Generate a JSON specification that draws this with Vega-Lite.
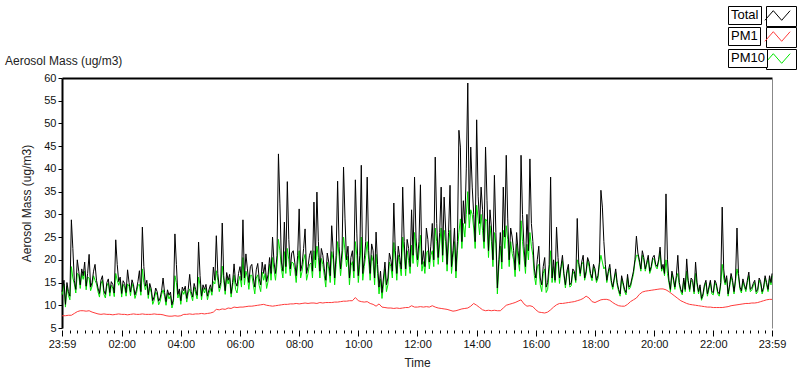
{
"$schema":"https://vega.github.io/schema/vega-lite/v6.json",
"autosize":{"type":"none"},
"width":710,"height":250,
"padding":{"left":62,"top":78,"right":28,"bottom":41},
"background":"white",
"config":{"view":{"stroke":null},"font":"Liberation Sans"},
"title":{"text":"Aerosol Mass (ug/m3)","anchor":"start","frame":"group","dx":-57,"dy":71,"offset":0,"fontSize":12,"fontWeight":"normal","color":"#222","font":"Liberation Sans","baseline":"alphabetic"},
"data":{"format":{"parse":{"t":"utc:'%Y-%m-%d %H:%M'"}},"values":[
{"t":"1970-01-01 23:59","Total":13.0,"PM10":12.3,"PM1":7.7},
{"t":"1970-01-02 00:00","Total":13.5,"PM10":12.7,"PM1":7.7},
{"t":"1970-01-02 00:03","Total":15.5,"PM10":14.7},
{"t":"1970-01-02 00:06","Total":10.2,"PM10":9.6,"PM1":7.7},
{"t":"1970-01-02 00:09","Total":15.0,"PM10":14.2},
{"t":"1970-01-02 00:12","Total":13.0,"PM10":12.2,"PM1":7.8},
{"t":"1970-01-02 00:15","Total":12.0,"PM10":11.2},
{"t":"1970-01-02 00:18","Total":28.8,"PM10":18.5,"PM1":7.8},
{"t":"1970-01-02 00:21","Total":22.5,"PM10":16.0},
{"t":"1970-01-02 00:24","Total":15.5,"PM10":14.7,"PM1":8.2},
{"t":"1970-01-02 00:27","Total":13.5,"PM10":12.7},
{"t":"1970-01-02 00:30","Total":20.0,"PM10":17.0,"PM1":8.6},
{"t":"1970-01-02 00:33","Total":17.5,"PM10":16.7},
{"t":"1970-01-02 00:36","Total":14.5,"PM10":13.7,"PM1":8.8},
{"t":"1970-01-02 00:39","Total":18.0,"PM10":17.0},
{"t":"1970-01-02 00:42","Total":16.5,"PM10":15.7,"PM1":8.8},
{"t":"1970-01-02 00:45","Total":19.5,"PM10":17.5},
{"t":"1970-01-02 00:48","Total":14.2,"PM10":13.4,"PM1":8.7},
{"t":"1970-01-02 00:51","Total":17.0,"PM10":16.2},
{"t":"1970-01-02 00:54","Total":21.2,"PM10":16.0,"PM1":8.8},
{"t":"1970-01-02 00:57","Total":14.0,"PM10":13.2},
{"t":"1970-01-02 01:00","Total":15.0,"PM10":14.2,"PM1":8.5},
{"t":"1970-01-02 01:03","Total":17.5,"PM10":16.5},
{"t":"1970-01-02 01:06","Total":19.0,"PM10":15.5,"PM1":8.3},
{"t":"1970-01-02 01:09","Total":15.5,"PM10":14.7},
{"t":"1970-01-02 01:12","Total":13.8,"PM10":13.0,"PM1":8.1},
{"t":"1970-01-02 01:15","Total":12.6,"PM10":11.8},
{"t":"1970-01-02 01:18","Total":15.5,"PM10":14.7,"PM1":8.0},
{"t":"1970-01-02 01:21","Total":16.5,"PM10":15.5},
{"t":"1970-01-02 01:24","Total":13.2,"PM10":12.4,"PM1":8.1},
{"t":"1970-01-02 01:27","Total":12.4,"PM10":11.6},
{"t":"1970-01-02 01:30","Total":15.0,"PM10":14.2,"PM1":8.0},
{"t":"1970-01-02 01:33","Total":15.8,"PM10":15.0},
{"t":"1970-01-02 01:36","Total":12.8,"PM10":12.0,"PM1":8.0},
{"t":"1970-01-02 01:39","Total":15.2,"PM10":14.4},
{"t":"1970-01-02 01:42","Total":14.6,"PM10":13.8,"PM1":7.9},
{"t":"1970-01-02 01:45","Total":12.7,"PM10":11.9},
{"t":"1970-01-02 01:48","Total":24.4,"PM10":17.0,"PM1":8.0},
{"t":"1970-01-02 01:51","Total":19.0,"PM10":15.5},
{"t":"1970-01-02 01:54","Total":15.2,"PM10":14.4,"PM1":8.1},
{"t":"1970-01-02 01:57","Total":16.2,"PM10":15.4},
{"t":"1970-01-02 02:00","Total":12.6,"PM10":11.8,"PM1":8.0},
{"t":"1970-01-02 02:03","Total":15.4,"PM10":14.6},
{"t":"1970-01-02 02:06","Total":14.8,"PM10":14.0,"PM1":8.0},
{"t":"1970-01-02 02:09","Total":12.8,"PM10":12.0},
{"t":"1970-01-02 02:12","Total":17.8,"PM10":14.7,"PM1":7.9},
{"t":"1970-01-02 02:15","Total":15.0,"PM10":14.2},
{"t":"1970-01-02 02:18","Total":12.9,"PM10":12.1,"PM1":8.0},
{"t":"1970-01-02 02:21","Total":15.6,"PM10":14.8},
{"t":"1970-01-02 02:24","Total":14.5,"PM10":13.7,"PM1":8.1},
{"t":"1970-01-02 02:27","Total":12.3,"PM10":11.5},
{"t":"1970-01-02 02:30","Total":13.4,"PM10":12.6,"PM1":8.0},
{"t":"1970-01-02 02:33","Total":15.2,"PM10":14.4},
{"t":"1970-01-02 02:36","Total":17.6,"PM10":14.6,"PM1":8.0},
{"t":"1970-01-02 02:39","Total":13.0,"PM10":12.2},
{"t":"1970-01-02 02:42","Total":27.2,"PM10":18.0,"PM1":8.1},
{"t":"1970-01-02 02:45","Total":18.5,"PM10":15.0},
{"t":"1970-01-02 02:48","Total":14.2,"PM10":13.4,"PM1":8.0},
{"t":"1970-01-02 02:51","Total":15.5,"PM10":14.7},
{"t":"1970-01-02 02:54","Total":12.3,"PM10":11.5,"PM1":8.0},
{"t":"1970-01-02 02:57","Total":14.8,"PM10":14.0},
{"t":"1970-01-02 03:00","Total":13.6,"PM10":12.8,"PM1":8.0},
{"t":"1970-01-02 03:03","Total":11.0,"PM10":10.2},
{"t":"1970-01-02 03:06","Total":11.9,"PM10":11.1,"PM1":8.1},
{"t":"1970-01-02 03:09","Total":13.8,"PM10":13.0},
{"t":"1970-01-02 03:12","Total":13.0,"PM10":12.2,"PM1":8.0},
{"t":"1970-01-02 03:15","Total":10.9,"PM10":10.1},
{"t":"1970-01-02 03:18","Total":11.6,"PM10":10.8,"PM1":8.0},
{"t":"1970-01-02 03:21","Total":13.2,"PM10":12.4},
{"t":"1970-01-02 03:24","Total":16.0,"PM10":13.4,"PM1":7.9},
{"t":"1970-01-02 03:27","Total":12.8,"PM10":12.0},
{"t":"1970-01-02 03:30","Total":10.8,"PM10":10.0,"PM1":7.7},
{"t":"1970-01-02 03:33","Total":13.4,"PM10":12.6},
{"t":"1970-01-02 03:36","Total":12.2,"PM10":11.4,"PM1":7.6},
{"t":"1970-01-02 03:39","Total":12.9,"PM10":12.1},
{"t":"1970-01-02 03:42","Total":10.1,"PM10":9.4,"PM1":7.6},
{"t":"1970-01-02 03:45","Total":11.4,"PM10":10.6},
{"t":"1970-01-02 03:48","Total":25.7,"PM10":16.5,"PM1":7.7},
{"t":"1970-01-02 03:51","Total":19.0,"PM10":15.0},
{"t":"1970-01-02 03:54","Total":12.4,"PM10":11.6,"PM1":7.6},
{"t":"1970-01-02 03:57","Total":13.6,"PM10":12.8},
{"t":"1970-01-02 04:00","Total":11.0,"PM10":10.2,"PM1":7.7},
{"t":"1970-01-02 04:03","Total":14.0,"PM10":13.2},
{"t":"1970-01-02 04:06","Total":13.2,"PM10":12.4,"PM1":8.0},
{"t":"1970-01-02 04:09","Total":14.2,"PM10":13.4},
{"t":"1970-01-02 04:12","Total":11.5,"PM10":10.7,"PM1":8.0},
{"t":"1970-01-02 04:15","Total":13.5,"PM10":12.7},
{"t":"1970-01-02 04:18","Total":16.8,"PM10":13.6,"PM1":8.1},
{"t":"1970-01-02 04:21","Total":13.0,"PM10":12.2},
{"t":"1970-01-02 04:24","Total":11.8,"PM10":11.0,"PM1":8.0},
{"t":"1970-01-02 04:27","Total":14.8,"PM10":14.0},
{"t":"1970-01-02 04:30","Total":13.5,"PM10":12.7,"PM1":8.1},
{"t":"1970-01-02 04:33","Total":12.2,"PM10":11.4},
{"t":"1970-01-02 04:36","Total":23.9,"PM10":16.2,"PM1":8.1},
{"t":"1970-01-02 04:39","Total":16.5,"PM10":14.5},
{"t":"1970-01-02 04:42","Total":12.0,"PM10":11.2,"PM1":8.2},
{"t":"1970-01-02 04:45","Total":14.5,"PM10":13.7},
{"t":"1970-01-02 04:48","Total":13.5,"PM10":12.7,"PM1":8.1},
{"t":"1970-01-02 04:51","Total":14.6,"PM10":13.8},
{"t":"1970-01-02 04:54","Total":12.0,"PM10":11.2,"PM1":8.2},
{"t":"1970-01-02 04:57","Total":13.4,"PM10":12.6},
{"t":"1970-01-02 05:00","Total":14.5,"PM10":13.7,"PM1":8.3},
{"t":"1970-01-02 05:03","Total":13.0,"PM10":12.2},
{"t":"1970-01-02 05:06","Total":18.4,"PM10":15.2,"PM1":8.5},
{"t":"1970-01-02 05:09","Total":15.5,"PM10":14.7},
{"t":"1970-01-02 05:12","Total":25.3,"PM10":17.6,"PM1":9.1},
{"t":"1970-01-02 05:15","Total":17.0,"PM10":15.5},
{"t":"1970-01-02 05:18","Total":13.8,"PM10":13.0,"PM1":9.0},
{"t":"1970-01-02 05:21","Total":15.0,"PM10":14.2},
{"t":"1970-01-02 05:24","Total":28.1,"PM10":18.6,"PM1":9.2},
{"t":"1970-01-02 05:27","Total":16.5,"PM10":15.5},
{"t":"1970-01-02 05:30","Total":13.2,"PM10":12.4,"PM1":9.1},
{"t":"1970-01-02 05:33","Total":17.2,"PM10":16.2},
{"t":"1970-01-02 05:36","Total":15.5,"PM10":14.7,"PM1":9.4},
{"t":"1970-01-02 05:39","Total":16.8,"PM10":16.0},
{"t":"1970-01-02 05:42","Total":12.6,"PM10":11.8,"PM1":9.3},
{"t":"1970-01-02 05:45","Total":15.0,"PM10":14.2},
{"t":"1970-01-02 05:48","Total":19.1,"PM10":16.6,"PM1":9.6},
{"t":"1970-01-02 05:51","Total":15.0,"PM10":13.5},
{"t":"1970-01-02 05:54","Total":14.2,"PM10":12.7,"PM1":9.5},
{"t":"1970-01-02 05:57","Total":17.0,"PM10":15.2},
{"t":"1970-01-02 06:00","Total":18.5,"PM10":16.4,"PM1":9.6},
{"t":"1970-01-02 06:03","Total":15.5,"PM10":14.0},
{"t":"1970-01-02 06:06","Total":28.8,"PM10":20.5,"PM1":9.6},
{"t":"1970-01-02 06:09","Total":16.0,"PM10":14.5},
{"t":"1970-01-02 06:12","Total":21.3,"PM10":17.5,"PM1":9.7},
{"t":"1970-01-02 06:15","Total":18.0,"PM10":16.2},
{"t":"1970-01-02 06:18","Total":15.0,"PM10":13.5,"PM1":9.8},
{"t":"1970-01-02 06:21","Total":18.5,"PM10":16.6},
{"t":"1970-01-02 06:24","Total":19.0,"PM10":16.6,"PM1":9.8},
{"t":"1970-01-02 06:27","Total":16.0,"PM10":14.5},
{"t":"1970-01-02 06:30","Total":14.0,"PM10":12.5,"PM1":9.9},
{"t":"1970-01-02 06:33","Total":17.8,"PM10":16.0},
{"t":"1970-01-02 06:36","Total":19.2,"PM10":16.7,"PM1":10.0},
{"t":"1970-01-02 06:39","Total":15.8,"PM10":14.3},
{"t":"1970-01-02 06:42","Total":14.5,"PM10":13.0,"PM1":10.1},
{"t":"1970-01-02 06:45","Total":19.5,"PM10":17.3},
{"t":"1970-01-02 06:48","Total":17.0,"PM10":15.5,"PM1":10.2},
{"t":"1970-01-02 06:51","Total":19.0,"PM10":17.0},
{"t":"1970-01-02 06:54","Total":15.2,"PM10":13.7,"PM1":10.0},
{"t":"1970-01-02 06:57","Total":16.8,"PM10":15.3},
{"t":"1970-01-02 07:00","Total":20.5,"PM10":19.0,"PM1":9.9},
{"t":"1970-01-02 07:03","Total":17.0,"PM10":15.5},
{"t":"1970-01-02 07:06","Total":25.0,"PM10":20.5,"PM1":9.8},
{"t":"1970-01-02 07:09","Total":19.5,"PM10":17.8},
{"t":"1970-01-02 07:12","Total":17.0,"PM10":15.5,"PM1":9.9},
{"t":"1970-01-02 07:15","Total":21.0,"PM10":19.0},
{"t":"1970-01-02 07:18","Total":43.3,"PM10":24.5,"PM1":10.0},
{"t":"1970-01-02 07:21","Total":32.3,"PM10":22.0},
{"t":"1970-01-02 07:24","Total":19.5,"PM10":18.0,"PM1":10.1},
{"t":"1970-01-02 07:27","Total":17.5,"PM10":16.0},
{"t":"1970-01-02 07:30","Total":28.3,"PM10":21.8,"PM1":10.2},
{"t":"1970-01-02 07:33","Total":18.5,"PM10":17.0},
{"t":"1970-01-02 07:36","Total":37.2,"PM10":22.5,"PM1":10.2},
{"t":"1970-01-02 07:39","Total":24.5,"PM10":20.0},
{"t":"1970-01-02 07:42","Total":18.0,"PM10":16.5,"PM1":10.3},
{"t":"1970-01-02 07:45","Total":21.5,"PM10":19.5},
{"t":"1970-01-02 07:48","Total":22.0,"PM10":19.3,"PM1":10.3},
{"t":"1970-01-02 07:51","Total":19.5,"PM10":17.8},
{"t":"1970-01-02 07:54","Total":16.5,"PM10":15.0,"PM1":10.4},
{"t":"1970-01-02 07:57","Total":21.0,"PM10":19.0},
{"t":"1970-01-02 08:00","Total":31.2,"PM10":22.0,"PM1":10.3},
{"t":"1970-01-02 08:03","Total":17.5,"PM10":16.0},
{"t":"1970-01-02 08:06","Total":19.0,"PM10":17.5,"PM1":10.4},
{"t":"1970-01-02 08:09","Total":22.5,"PM10":20.0},
{"t":"1970-01-02 08:12","Total":26.8,"PM10":21.2,"PM1":10.5},
{"t":"1970-01-02 08:15","Total":17.0,"PM10":15.5},
{"t":"1970-01-02 08:18","Total":18.5,"PM10":17.0,"PM1":10.4},
{"t":"1970-01-02 08:21","Total":21.0,"PM10":19.0},
{"t":"1970-01-02 08:24","Total":22.0,"PM10":19.3,"PM1":10.5},
{"t":"1970-01-02 08:27","Total":17.5,"PM10":16.0},
{"t":"1970-01-02 08:30","Total":32.7,"PM10":22.0,"PM1":10.5},
{"t":"1970-01-02 08:33","Total":20.0,"PM10":18.2},
{"t":"1970-01-02 08:36","Total":34.9,"PM10":23.0,"PM1":10.4},
{"t":"1970-01-02 08:39","Total":24.0,"PM10":20.5},
{"t":"1970-01-02 08:42","Total":17.5,"PM10":16.0,"PM1":10.6},
{"t":"1970-01-02 08:45","Total":22.5,"PM10":20.3},
{"t":"1970-01-02 08:48","Total":21.0,"PM10":19.0,"PM1":10.5},
{"t":"1970-01-02 08:51","Total":18.0,"PM10":16.5},
{"t":"1970-01-02 08:54","Total":15.5,"PM10":14.0,"PM1":10.6},
{"t":"1970-01-02 08:57","Total":21.5,"PM10":19.5},
{"t":"1970-01-02 09:00","Total":19.5,"PM10":18.0,"PM1":10.6},
{"t":"1970-01-02 09:03","Total":16.5,"PM10":15.0},
{"t":"1970-01-02 09:06","Total":27.5,"PM10":21.8,"PM1":10.6},
{"t":"1970-01-02 09:09","Total":22.0,"PM10":20.0},
{"t":"1970-01-02 09:12","Total":16.0,"PM10":14.5,"PM1":10.7},
{"t":"1970-01-02 09:15","Total":21.0,"PM10":19.0},
{"t":"1970-01-02 09:18","Total":37.3,"PM10":24.0,"PM1":10.7},
{"t":"1970-01-02 09:21","Total":23.0,"PM10":20.8},
{"t":"1970-01-02 09:24","Total":18.0,"PM10":16.5,"PM1":10.8},
{"t":"1970-01-02 09:27","Total":22.0,"PM10":20.0},
{"t":"1970-01-02 09:30","Total":40.4,"PM10":25.0,"PM1":10.9},
{"t":"1970-01-02 09:33","Total":29.0,"PM10":22.0},
{"t":"1970-01-02 09:36","Total":20.0,"PM10":18.5,"PM1":10.9},
{"t":"1970-01-02 09:39","Total":23.0,"PM10":20.8},
{"t":"1970-01-02 09:42","Total":16.0,"PM10":14.5,"PM1":11.0},
{"t":"1970-01-02 09:45","Total":20.5,"PM10":18.7},
{"t":"1970-01-02 09:48","Total":22.0,"PM10":19.6,"PM1":11.0},
{"t":"1970-01-02 09:51","Total":17.5,"PM10":16.0},
{"t":"1970-01-02 09:54","Total":37.6,"PM10":24.0,"PM1":11.7},
{"t":"1970-01-02 09:57","Total":25.7,"PM10":21.0},
{"t":"1970-01-02 10:00","Total":16.5,"PM10":15.0,"PM1":11.0},
{"t":"1970-01-02 10:03","Total":21.0,"PM10":19.0},
{"t":"1970-01-02 10:06","Total":40.8,"PM10":25.0,"PM1":10.8},
{"t":"1970-01-02 10:09","Total":17.0,"PM10":15.5},
{"t":"1970-01-02 10:12","Total":20.0,"PM10":18.5,"PM1":10.7},
{"t":"1970-01-02 10:15","Total":24.0,"PM10":21.0},
{"t":"1970-01-02 10:18","Total":38.2,"PM10":24.0,"PM1":10.8},
{"t":"1970-01-02 10:21","Total":22.0,"PM10":20.0},
{"t":"1970-01-02 10:24","Total":17.0,"PM10":15.5,"PM1":10.4},
{"t":"1970-01-02 10:27","Total":23.5,"PM10":21.0},
{"t":"1970-01-02 10:30","Total":22.0,"PM10":19.6,"PM1":10.2},
{"t":"1970-01-02 10:33","Total":16.0,"PM10":14.5},
{"t":"1970-01-02 10:36","Total":26.1,"PM10":21.2,"PM1":9.8},
{"t":"1970-01-02 10:39","Total":19.0,"PM10":17.0},
{"t":"1970-01-02 10:42","Total":14.0,"PM10":12.5,"PM1":10.3},
{"t":"1970-01-02 10:45","Total":17.5,"PM10":15.8},
{"t":"1970-01-02 10:48","Total":12.8,"PM10":11.5,"PM1":9.6},
{"t":"1970-01-02 10:51","Total":16.0,"PM10":14.5},
{"t":"1970-01-02 10:54","Total":19.5,"PM10":18.0,"PM1":9.5},
{"t":"1970-01-02 10:57","Total":14.5,"PM10":13.0},
{"t":"1970-01-02 11:00","Total":16.0,"PM10":14.5,"PM1":9.4},
{"t":"1970-01-02 11:03","Total":21.5,"PM10":19.5},
{"t":"1970-01-02 11:06","Total":20.0,"PM10":18.5,"PM1":9.4},
{"t":"1970-01-02 11:09","Total":17.5,"PM10":16.0},
{"t":"1970-01-02 11:12","Total":32.5,"PM10":23.8,"PM1":9.3},
{"t":"1970-01-02 11:15","Total":22.0,"PM10":20.0},
{"t":"1970-01-02 11:18","Total":17.0,"PM10":15.5,"PM1":9.4},
{"t":"1970-01-02 11:21","Total":23.0,"PM10":21.0},
{"t":"1970-01-02 11:24","Total":20.5,"PM10":19.0,"PM1":9.3},
{"t":"1970-01-02 11:27","Total":18.0,"PM10":16.5},
{"t":"1970-01-02 11:30","Total":36.0,"PM10":25.0,"PM1":9.4},
{"t":"1970-01-02 11:33","Total":24.0,"PM10":21.5},
{"t":"1970-01-02 11:36","Total":18.0,"PM10":16.5,"PM1":9.5},
{"t":"1970-01-02 11:39","Total":24.5,"PM10":22.0},
{"t":"1970-01-02 11:42","Total":22.5,"PM10":19.8,"PM1":9.5},
{"t":"1970-01-02 11:45","Total":18.5,"PM10":17.0},
{"t":"1970-01-02 11:48","Total":31.0,"PM10":23.2,"PM1":9.9},
{"t":"1970-01-02 11:51","Total":21.0,"PM10":19.2},
{"t":"1970-01-02 11:54","Total":38.2,"PM10":26.0,"PM1":9.6},
{"t":"1970-01-02 11:57","Total":25.0,"PM10":22.0},
{"t":"1970-01-02 12:00","Total":20.0,"PM10":18.5,"PM1":9.6},
{"t":"1970-01-02 12:03","Total":24.0,"PM10":21.5},
{"t":"1970-01-02 12:06","Total":36.5,"PM10":25.4,"PM1":9.7},
{"t":"1970-01-02 12:09","Total":19.0,"PM10":17.5},
{"t":"1970-01-02 12:12","Total":22.0,"PM10":19.6,"PM1":9.6},
{"t":"1970-01-02 12:15","Total":18.5,"PM10":17.0},
{"t":"1970-01-02 12:18","Total":27.0,"PM10":21.6,"PM1":9.7},
{"t":"1970-01-02 12:21","Total":24.5,"PM10":22.0},
{"t":"1970-01-02 12:24","Total":19.5,"PM10":18.0,"PM1":9.6},
{"t":"1970-01-02 12:27","Total":23.0,"PM10":21.0},
{"t":"1970-01-02 12:30","Total":28.0,"PM10":22.0,"PM1":9.9},
{"t":"1970-01-02 12:33","Total":20.0,"PM10":18.5},
{"t":"1970-01-02 12:36","Total":42.6,"PM10":27.0,"PM1":9.6},
{"t":"1970-01-02 12:39","Total":28.0,"PM10":24.0},
{"t":"1970-01-02 12:42","Total":20.5,"PM10":19.0,"PM1":9.4},
{"t":"1970-01-02 12:45","Total":26.0,"PM10":23.5},
{"t":"1970-01-02 12:48","Total":36.0,"PM10":27.0,"PM1":9.3},
{"t":"1970-01-02 12:51","Total":21.0,"PM10":19.5},
{"t":"1970-01-02 12:54","Total":33.8,"PM10":26.5,"PM1":9.2},
{"t":"1970-01-02 12:57","Total":27.0,"PM10":24.0},
{"t":"1970-01-02 13:00","Total":19.0,"PM10":17.5,"PM1":9.1},
{"t":"1970-01-02 13:03","Total":26.0,"PM10":23.5},
{"t":"1970-01-02 13:06","Total":36.4,"PM10":26.5,"PM1":8.9},
{"t":"1970-01-02 13:09","Total":18.5,"PM10":17.0},
{"t":"1970-01-02 13:12","Total":22.0,"PM10":20.5,"PM1":8.7},
{"t":"1970-01-02 13:15","Total":27.0,"PM10":24.0},
{"t":"1970-01-02 13:18","Total":17.5,"PM10":16.0,"PM1":8.8},
{"t":"1970-01-02 13:21","Total":24.0,"PM10":22.0},
{"t":"1970-01-02 13:24","Total":48.5,"PM10":26.0,"PM1":9.0},
{"t":"1970-01-02 13:27","Total":44.8,"PM10":29.0},
{"t":"1970-01-02 13:30","Total":24.0,"PM10":22.5,"PM1":9.2},
{"t":"1970-01-02 13:33","Total":33.0,"PM10":28.0},
{"t":"1970-01-02 13:36","Total":28.0,"PM10":25.0,"PM1":9.3},
{"t":"1970-01-02 13:39","Total":40.0,"PM10":30.0},
{"t":"1970-01-02 13:42","Total":58.9,"PM10":35.0,"PM1":9.4},
{"t":"1970-01-02 13:45","Total":30.0,"PM10":27.0},
{"t":"1970-01-02 13:48","Total":44.8,"PM10":31.0,"PM1":9.8},
{"t":"1970-01-02 13:51","Total":36.0,"PM10":30.0},
{"t":"1970-01-02 13:54","Total":30.0,"PM10":27.0,"PM1":10.4},
{"t":"1970-01-02 13:57","Total":24.0,"PM10":22.5},
{"t":"1970-01-02 14:00","Total":50.8,"PM10":32.0,"PM1":10.0},
{"t":"1970-01-02 14:03","Total":34.0,"PM10":29.0},
{"t":"1970-01-02 14:06","Total":28.0,"PM10":25.5,"PM1":9.5},
{"t":"1970-01-02 14:09","Total":36.0,"PM10":30.0},
{"t":"1970-01-02 14:12","Total":31.0,"PM10":26.5,"PM1":9.0},
{"t":"1970-01-02 14:15","Total":24.0,"PM10":22.5},
{"t":"1970-01-02 14:18","Total":44.8,"PM10":29.0,"PM1":8.8},
{"t":"1970-01-02 14:21","Total":33.0,"PM10":28.5},
{"t":"1970-01-02 14:24","Total":22.0,"PM10":20.5,"PM1":8.9},
{"t":"1970-01-02 14:27","Total":31.0,"PM10":27.5},
{"t":"1970-01-02 14:30","Total":27.0,"PM10":24.0,"PM1":8.8},
{"t":"1970-01-02 14:33","Total":20.0,"PM10":18.5},
{"t":"1970-01-02 14:36","Total":38.6,"PM10":26.0,"PM1":8.9},
{"t":"1970-01-02 14:39","Total":26.0,"PM10":23.5},
{"t":"1970-01-02 14:42","Total":13.8,"PM10":12.5,"PM1":8.8},
{"t":"1970-01-02 14:45","Total":20.0,"PM10":18.5},
{"t":"1970-01-02 14:48","Total":26.0,"PM10":23.0,"PM1":8.8},
{"t":"1970-01-02 14:51","Total":19.5,"PM10":18.0},
{"t":"1970-01-02 14:54","Total":36.0,"PM10":26.5,"PM1":9.4},
{"t":"1970-01-02 14:57","Total":25.0,"PM10":22.5},
{"t":"1970-01-02 15:00","Total":43.0,"PM10":27.5,"PM1":10.0},
{"t":"1970-01-02 15:03","Total":29.0,"PM10":24.5},
{"t":"1970-01-02 15:06","Total":20.0,"PM10":18.5,"PM1":10.2},
{"t":"1970-01-02 15:09","Total":27.0,"PM10":24.0},
{"t":"1970-01-02 15:12","Total":25.0,"PM10":21.4,"PM1":10.4},
{"t":"1970-01-02 15:15","Total":22.0,"PM10":20.0},
{"t":"1970-01-02 15:18","Total":17.8,"PM10":16.3,"PM1":10.6},
{"t":"1970-01-02 15:21","Total":26.0,"PM10":23.5},
{"t":"1970-01-02 15:24","Total":22.0,"PM10":20.2,"PM1":10.9},
{"t":"1970-01-02 15:27","Total":19.0,"PM10":17.5},
{"t":"1970-01-02 15:30","Total":43.0,"PM10":28.6,"PM1":11.2},
{"t":"1970-01-02 15:33","Total":30.0,"PM10":24.0},
{"t":"1970-01-02 15:36","Total":23.0,"PM10":20.6,"PM1":10.3},
{"t":"1970-01-02 15:39","Total":18.5,"PM10":17.0},
{"t":"1970-01-02 15:42","Total":30.0,"PM10":23.4,"PM1":9.8},
{"t":"1970-01-02 15:45","Total":22.0,"PM10":20.0},
{"t":"1970-01-02 15:48","Total":42.2,"PM10":26.0,"PM1":9.9},
{"t":"1970-01-02 15:51","Total":28.0,"PM10":23.0},
{"t":"1970-01-02 15:54","Total":24.0,"PM10":21.0,"PM1":9.7},
{"t":"1970-01-02 15:57","Total":18.0,"PM10":16.5},
{"t":"1970-01-02 16:00","Total":16.0,"PM10":14.5,"PM1":9.0},
{"t":"1970-01-02 16:03","Total":20.0,"PM10":18.5},
{"t":"1970-01-02 16:06","Total":23.0,"PM10":19.0,"PM1":8.5},
{"t":"1970-01-02 16:09","Total":16.0,"PM10":14.5},
{"t":"1970-01-02 16:12","Total":14.5,"PM10":13.0,"PM1":8.4},
{"t":"1970-01-02 16:15","Total":18.5,"PM10":17.0},
{"t":"1970-01-02 16:18","Total":20.5,"PM10":18.0,"PM1":8.3},
{"t":"1970-01-02 16:21","Total":14.0,"PM10":12.8},
{"t":"1970-01-02 16:24","Total":15.0,"PM10":13.5,"PM1":8.5},
{"t":"1970-01-02 16:27","Total":19.0,"PM10":17.5},
{"t":"1970-01-02 16:30","Total":38.2,"PM10":22.0,"PM1":9.0},
{"t":"1970-01-02 16:33","Total":16.0,"PM10":15.0},
{"t":"1970-01-02 16:36","Total":20.0,"PM10":18.5,"PM1":9.6},
{"t":"1970-01-02 16:39","Total":15.5,"PM10":15.0},
{"t":"1970-01-02 16:42","Total":27.2,"PM10":19.5,"PM1":10.1},
{"t":"1970-01-02 16:45","Total":20.5,"PM10":19.5},
{"t":"1970-01-02 16:48","Total":16.0,"PM10":14.8,"PM1":10.4},
{"t":"1970-01-02 16:51","Total":18.5,"PM10":18.0},
{"t":"1970-01-02 16:54","Total":21.0,"PM10":19.8,"PM1":10.4},
{"t":"1970-01-02 16:57","Total":17.0,"PM10":16.5},
{"t":"1970-01-02 17:00","Total":14.5,"PM10":13.8,"PM1":10.5},
{"t":"1970-01-02 17:03","Total":17.5,"PM10":17.0},
{"t":"1970-01-02 17:06","Total":19.0,"PM10":18.2,"PM1":10.6},
{"t":"1970-01-02 17:09","Total":14.5,"PM10":14.0},
{"t":"1970-01-02 17:12","Total":15.0,"PM10":14.3,"PM1":10.7},
{"t":"1970-01-02 17:15","Total":18.0,"PM10":17.5},
{"t":"1970-01-02 17:18","Total":17.5,"PM10":16.8,"PM1":10.8},
{"t":"1970-01-02 17:21","Total":15.5,"PM10":15.0},
{"t":"1970-01-02 17:24","Total":29.1,"PM10":20.0,"PM1":11.0},
{"t":"1970-01-02 17:27","Total":19.5,"PM10":19.0},
{"t":"1970-01-02 17:30","Total":17.0,"PM10":16.4,"PM1":11.2},
{"t":"1970-01-02 17:33","Total":19.5,"PM10":19.0},
{"t":"1970-01-02 17:36","Total":21.0,"PM10":19.5,"PM1":11.5},
{"t":"1970-01-02 17:39","Total":16.0,"PM10":15.5},
{"t":"1970-01-02 17:42","Total":17.5,"PM10":16.9,"PM1":12.0},
{"t":"1970-01-02 17:45","Total":20.5,"PM10":20.0},
{"t":"1970-01-02 17:48","Total":19.5,"PM10":18.5,"PM1":11.6},
{"t":"1970-01-02 17:51","Total":17.0,"PM10":16.5},
{"t":"1970-01-02 17:54","Total":16.0,"PM10":15.4,"PM1":10.8},
{"t":"1970-01-02 17:57","Total":19.0,"PM10":18.5},
{"t":"1970-01-02 18:00","Total":18.0,"PM10":17.3,"PM1":10.6},
{"t":"1970-01-02 18:03","Total":15.5,"PM10":15.0},
{"t":"1970-01-02 18:06","Total":16.5,"PM10":15.9,"PM1":10.9},
{"t":"1970-01-02 18:09","Total":19.5,"PM10":19.0},
{"t":"1970-01-02 18:12","Total":35.3,"PM10":21.0,"PM1":11.2},
{"t":"1970-01-02 18:15","Total":31.6,"PM10":19.5},
{"t":"1970-01-02 18:18","Total":24.0,"PM10":18.0,"PM1":11.3},
{"t":"1970-01-02 18:21","Total":19.0,"PM10":18.5},
{"t":"1970-01-02 18:24","Total":15.5,"PM10":15.0,"PM1":11.3},
{"t":"1970-01-02 18:27","Total":17.5,"PM10":17.0},
{"t":"1970-01-02 18:30","Total":19.0,"PM10":18.2,"PM1":11.1},
{"t":"1970-01-02 18:33","Total":15.5,"PM10":15.0},
{"t":"1970-01-02 18:36","Total":14.0,"PM10":13.5,"PM1":10.6},
{"t":"1970-01-02 18:39","Total":16.0,"PM10":15.5},
{"t":"1970-01-02 18:42","Total":18.0,"PM10":17.2,"PM1":10.2},
{"t":"1970-01-02 18:45","Total":15.0,"PM10":14.5},
{"t":"1970-01-02 18:48","Total":13.5,"PM10":13.0,"PM1":9.9},
{"t":"1970-01-02 18:51","Total":12.5,"PM10":12.0},
{"t":"1970-01-02 18:54","Total":16.5,"PM10":15.9,"PM1":9.8},
{"t":"1970-01-02 18:57","Total":15.0,"PM10":14.5},
{"t":"1970-01-02 19:00","Total":13.5,"PM10":13.0,"PM1":9.8},
{"t":"1970-01-02 19:03","Total":12.8,"PM10":12.3},
{"t":"1970-01-02 19:06","Total":16.8,"PM10":16.2,"PM1":10.2},
{"t":"1970-01-02 19:09","Total":14.0,"PM10":13.5},
{"t":"1970-01-02 19:12","Total":14.5,"PM10":14.0,"PM1":10.8},
{"t":"1970-01-02 19:15","Total":16.0,"PM10":15.5},
{"t":"1970-01-02 19:18","Total":17.5,"PM10":16.8,"PM1":11.2},
{"t":"1970-01-02 19:21","Total":20.0,"PM10":19.5},
{"t":"1970-01-02 19:24","Total":25.2,"PM10":21.0,"PM1":11.6},
{"t":"1970-01-02 19:27","Total":21.5,"PM10":21.0},
{"t":"1970-01-02 19:30","Total":20.0,"PM10":19.4,"PM1":12.4},
{"t":"1970-01-02 19:33","Total":18.0,"PM10":17.5},
{"t":"1970-01-02 19:36","Total":22.0,"PM10":21.0,"PM1":12.9},
{"t":"1970-01-02 19:39","Total":20.5,"PM10":20.0},
{"t":"1970-01-02 19:42","Total":18.0,"PM10":17.5,"PM1":13.1},
{"t":"1970-01-02 19:45","Total":19.5,"PM10":19.0},
{"t":"1970-01-02 19:48","Total":21.0,"PM10":20.3,"PM1":13.2},
{"t":"1970-01-02 19:51","Total":17.5,"PM10":17.0},
{"t":"1970-01-02 19:54","Total":18.5,"PM10":18.0,"PM1":13.3},
{"t":"1970-01-02 19:57","Total":20.5,"PM10":20.0},
{"t":"1970-01-02 20:00","Total":21.0,"PM10":20.3,"PM1":13.4},
{"t":"1970-01-02 20:03","Total":19.0,"PM10":18.5},
{"t":"1970-01-02 20:06","Total":18.5,"PM10":18.0,"PM1":13.5},
{"t":"1970-01-02 20:09","Total":20.0,"PM10":19.5},
{"t":"1970-01-02 20:12","Total":22.8,"PM10":21.8,"PM1":13.6},
{"t":"1970-01-02 20:15","Total":18.0,"PM10":17.5},
{"t":"1970-01-02 20:18","Total":19.0,"PM10":18.5,"PM1":13.6},
{"t":"1970-01-02 20:21","Total":17.0,"PM10":16.5},
{"t":"1970-01-02 20:24","Total":34.5,"PM10":20.0,"PM1":13.4},
{"t":"1970-01-02 20:27","Total":20.0,"PM10":17.0},
{"t":"1970-01-02 20:30","Total":15.5,"PM10":15.0,"PM1":13.0},
{"t":"1970-01-02 20:33","Total":13.5,"PM10":13.0},
{"t":"1970-01-02 20:36","Total":17.5,"PM10":16.9,"PM1":12.5},
{"t":"1970-01-02 20:39","Total":16.0,"PM10":15.5},
{"t":"1970-01-02 20:42","Total":14.0,"PM10":13.5,"PM1":12.0},
{"t":"1970-01-02 20:45","Total":16.5,"PM10":16.0},
{"t":"1970-01-02 20:48","Total":21.0,"PM10":17.0,"PM1":11.5},
{"t":"1970-01-02 20:51","Total":15.0,"PM10":14.5},
{"t":"1970-01-02 20:54","Total":13.5,"PM10":13.0,"PM1":11.0},
{"t":"1970-01-02 20:57","Total":12.8,"PM10":12.3},
{"t":"1970-01-02 21:00","Total":16.0,"PM10":15.5,"PM1":10.7},
{"t":"1970-01-02 21:03","Total":13.5,"PM10":13.0},
{"t":"1970-01-02 21:06","Total":20.2,"PM10":17.5,"PM1":10.4},
{"t":"1970-01-02 21:09","Total":15.5,"PM10":15.0},
{"t":"1970-01-02 21:12","Total":13.5,"PM10":13.0,"PM1":10.2},
{"t":"1970-01-02 21:15","Total":16.0,"PM10":15.5},
{"t":"1970-01-02 21:18","Total":15.5,"PM10":15.0,"PM1":10.1},
{"t":"1970-01-02 21:21","Total":13.0,"PM10":12.5},
{"t":"1970-01-02 21:24","Total":19.5,"PM10":17.0,"PM1":10.0},
{"t":"1970-01-02 21:27","Total":15.0,"PM10":14.5},
{"t":"1970-01-02 21:30","Total":13.0,"PM10":12.5,"PM1":9.9},
{"t":"1970-01-02 21:33","Total":14.5,"PM10":14.0},
{"t":"1970-01-02 21:36","Total":11.5,"PM10":11.1,"PM1":9.8},
{"t":"1970-01-02 21:39","Total":12.5,"PM10":12.0},
{"t":"1970-01-02 21:42","Total":14.5,"PM10":14.0,"PM1":9.7},
{"t":"1970-01-02 21:45","Total":15.5,"PM10":15.0},
{"t":"1970-01-02 21:48","Total":12.5,"PM10":12.0,"PM1":9.6},
{"t":"1970-01-02 21:51","Total":14.0,"PM10":13.5},
{"t":"1970-01-02 21:54","Total":15.5,"PM10":15.0,"PM1":9.6},
{"t":"1970-01-02 21:57","Total":13.0,"PM10":12.5},
{"t":"1970-01-02 22:00","Total":12.8,"PM10":12.3,"PM1":9.5},
{"t":"1970-01-02 22:03","Total":15.5,"PM10":15.0},
{"t":"1970-01-02 22:06","Total":14.8,"PM10":14.3,"PM1":9.5},
{"t":"1970-01-02 22:09","Total":13.0,"PM10":12.5},
{"t":"1970-01-02 22:12","Total":12.5,"PM10":12.0,"PM1":9.5},
{"t":"1970-01-02 22:15","Total":15.0,"PM10":14.5},
{"t":"1970-01-02 22:18","Total":31.6,"PM10":19.0,"PM1":9.5},
{"t":"1970-01-02 22:21","Total":18.0,"PM10":16.0},
{"t":"1970-01-02 22:24","Total":15.0,"PM10":14.5,"PM1":9.6},
{"t":"1970-01-02 22:27","Total":16.5,"PM10":16.0},
{"t":"1970-01-02 22:30","Total":12.5,"PM10":12.0,"PM1":9.7},
{"t":"1970-01-02 22:33","Total":14.5,"PM10":14.0},
{"t":"1970-01-02 22:36","Total":17.0,"PM10":16.3,"PM1":9.9},
{"t":"1970-01-02 22:39","Total":15.5,"PM10":15.0},
{"t":"1970-01-02 22:42","Total":13.0,"PM10":12.5,"PM1":10.0},
{"t":"1970-01-02 22:45","Total":15.8,"PM10":15.3},
{"t":"1970-01-02 22:48","Total":27.0,"PM10":18.0,"PM1":10.1},
{"t":"1970-01-02 22:51","Total":17.0,"PM10":16.3},
{"t":"1970-01-02 22:54","Total":14.0,"PM10":13.5,"PM1":10.2},
{"t":"1970-01-02 22:57","Total":13.2,"PM10":12.7},
{"t":"1970-01-02 23:00","Total":15.8,"PM10":15.2,"PM1":10.3},
{"t":"1970-01-02 23:03","Total":14.5,"PM10":14.0},
{"t":"1970-01-02 23:06","Total":13.5,"PM10":13.0,"PM1":10.4},
{"t":"1970-01-02 23:09","Total":15.5,"PM10":15.0},
{"t":"1970-01-02 23:12","Total":17.3,"PM10":16.5,"PM1":10.4},
{"t":"1970-01-02 23:15","Total":13.5,"PM10":13.0},
{"t":"1970-01-02 23:18","Total":13.8,"PM10":13.3,"PM1":10.5},
{"t":"1970-01-02 23:21","Total":14.8,"PM10":14.3},
{"t":"1970-01-02 23:24","Total":15.5,"PM10":15.0,"PM1":10.5},
{"t":"1970-01-02 23:27","Total":13.0,"PM10":12.5},
{"t":"1970-01-02 23:30","Total":13.5,"PM10":13.0,"PM1":10.6},
{"t":"1970-01-02 23:33","Total":16.0,"PM10":15.5},
{"t":"1970-01-02 23:36","Total":15.2,"PM10":14.7,"PM1":10.8},
{"t":"1970-01-02 23:39","Total":13.0,"PM10":12.5},
{"t":"1970-01-02 23:42","Total":14.0,"PM10":13.5,"PM1":11.0},
{"t":"1970-01-02 23:45","Total":16.5,"PM10":16.0},
{"t":"1970-01-02 23:48","Total":15.0,"PM10":14.5,"PM1":11.2},
{"t":"1970-01-02 23:51","Total":13.5,"PM10":13.0},
{"t":"1970-01-02 23:54","Total":16.5,"PM10":15.9,"PM1":11.3},
{"t":"1970-01-02 23:57","Total":15.0,"PM10":14.5},
{"t":"1970-01-02 23:59","Total":17.0,"PM10":16.5,"PM1":11.3}
]},
"layer":[
{"mark":{"type":"line","strokeWidth":1},
 "encoding":{
  "x":{"field":"t","type":"temporal","scale":{"type":"utc","domain":[86340000,172740000]},
   "axis":{"orient":"bottom","offset":2,"values":[86340000,87300000,88200000,89100000,90000000,90900000,91800000,92700000,93600000,94500000,95400000,96300000,97200000,98100000,99000000,99900000,100800000,101700000,102600000,103500000,104400000,105300000,106200000,107100000,108000000,108900000,109800000,110700000,111600000,112500000,113400000,114300000,115200000,116100000,117000000,117900000,118800000,119700000,120600000,121500000,122400000,123300000,124200000,125100000,126000000,126900000,127800000,128700000,129600000,130500000,131400000,132300000,133200000,134100000,135000000,135900000,136800000,137700000,138600000,139500000,140400000,141300000,142200000,143100000,144000000,144900000,145800000,146700000,147600000,148500000,149400000,150300000,151200000,152100000,153000000,153900000,154800000,155700000,156600000,157500000,158400000,159300000,160200000,161100000,162000000,162900000,163800000,164700000,165600000,166500000,167400000,168300000,169200000,170100000,171000000,171900000,172740000],
    "format":"%H:%M","labelExpr":"(time(datum.value) % 7200000 == 0 || time(datum.value) % 3600000 == 3540000) ? datum.label : ''",
    "tickSize":{"condition":{"test":"time(datum.value) % 7200000 == 0 || time(datum.value) % 3600000 == 3540000","value":6},"value":3},
    "tickColor":"black","domain":false,"grid":false,"labelFontSize":11,"labelColor":"#111","labelPadding":2,"labelFlush":false,"labelOverlap":false,
    "title":"Time","titleFontSize":12,"titleFontWeight":"normal","titleColor":"#222","titlePadding":8}},
  "y":{"field":"PM10","type":"quantitative","scale":{"domain":[5,60],"nice":false,"zero":false},
   "axis":{"orient":"left","values":[5,10,15,20,25,30,35,40,45,50,55,60],"tickSize":4,"tickColor":"black","domainColor":"black","domainWidth":2,"labelFontSize":11,"labelColor":"#111","labelPadding":2,"grid":false,
    "title":"Aerosol Mass (ug/m3)","titleFontSize":12,"titleFontWeight":"normal","titleColor":"#222","titlePadding":10}},
  "color":{"datum":"PM10 sym","scale":{"domain":["PM10 sym"],"range":["#00e600"]},
   "legend":{"orient":"none","legendX":704,"legendY":-29,"title":null,"labelExpr":"''","labelOffset":0,"symbolOffset":2,"symbolType":"M-2.1,0.8L-0.7,-0.8L0.7,0.8L2.1,-0.8","symbolSize":144,"symbolStrokeWidth":1,"symbolFillColor":"transparent","strokeColor":"black","fillColor":"white","padding":3}},
  "opacity":{"datum":"PM10","scale":{"domain":["PM10"],"range":[1]},
   "legend":{"orient":"none","legendX":666,"legendY":-29,"title":null,"symbolSize":0,"symbolOpacity":0,"labelOffset":-12,"labelFontSize":13,"labelColor":"black","strokeColor":"black","fillColor":"white","padding":2}}
 }},
{"mark":{"type":"line","strokeWidth":1,"invalid":"filter"},
 "encoding":{
  "x":{"field":"t","type":"temporal","scale":{"type":"utc","domain":[86340000,172740000]},
   "axis":{"orient":"top","domain":true,"domainColor":"black","domainWidth":2,"ticks":false,"labels":false,"title":null,"grid":false}},
  "y":{"field":"PM1","type":"quantitative","scale":{"domain":[5,60],"nice":false,"zero":false},
   "axis":{"orient":"right","domain":true,"domainColor":"#888","domainWidth":1,"ticks":false,"labels":false,"title":null,"grid":false}},
  "color":{"datum":"PM1 sym","scale":{"domain":["PM1 sym"],"range":["#ff3b3b"]},
   "legend":{"orient":"none","legendX":704,"legendY":-51,"title":null,"labelExpr":"''","labelOffset":0,"symbolOffset":2,"symbolType":"M-2.1,0.8L-0.7,-0.8L0.7,0.8L2.1,-0.8","symbolSize":144,"symbolStrokeWidth":1,"symbolFillColor":"transparent","strokeColor":"black","fillColor":"white","padding":3}},
  "opacity":{"datum":"PM1","scale":{"domain":["PM1"],"range":[1]},
   "legend":{"orient":"none","legendX":666,"legendY":-51,"title":null,"symbolSize":0,"symbolOpacity":0,"labelOffset":-12,"labelExpr":"datum.label + '\u00a0\u00a0'","labelFontSize":13,"labelColor":"black","strokeColor":"black","fillColor":"white","padding":2}}
 }},
{"mark":{"type":"line","strokeWidth":1},
 "encoding":{
  "x":{"field":"t","type":"temporal","scale":{"type":"utc","domain":[86340000,172740000]},"axis":null},
  "y":{"field":"Total","type":"quantitative","scale":{"domain":[5,60],"nice":false,"zero":false},"axis":null},
  "color":{"datum":"Total sym","scale":{"domain":["Total sym"],"range":["#000000"]},
   "legend":{"orient":"none","legendX":704,"legendY":-72,"title":null,"labelExpr":"''","labelOffset":0,"symbolOffset":2,"symbolType":"M-2.1,0.8L-0.7,-0.8L0.7,0.8L2.1,-0.8","symbolSize":144,"symbolStrokeWidth":1,"symbolFillColor":"transparent","strokeColor":"black","fillColor":"white","padding":3}},
  "opacity":{"datum":"Total","scale":{"domain":["Total"],"range":[1]},
   "legend":{"orient":"none","legendX":666,"legendY":-72,"title":null,"symbolSize":0,"symbolOpacity":0,"labelOffset":-12,"labelExpr":"datum.label + '\u00a0'","labelFontSize":13,"labelColor":"black","strokeColor":"black","fillColor":"white","padding":2}}
 }}
],
"resolve":{"axis":{"x":"independent","y":"independent"},"scale":{"color":"independent","opacity":"independent"},"legend":{"color":"independent","opacity":"independent"}}
}
